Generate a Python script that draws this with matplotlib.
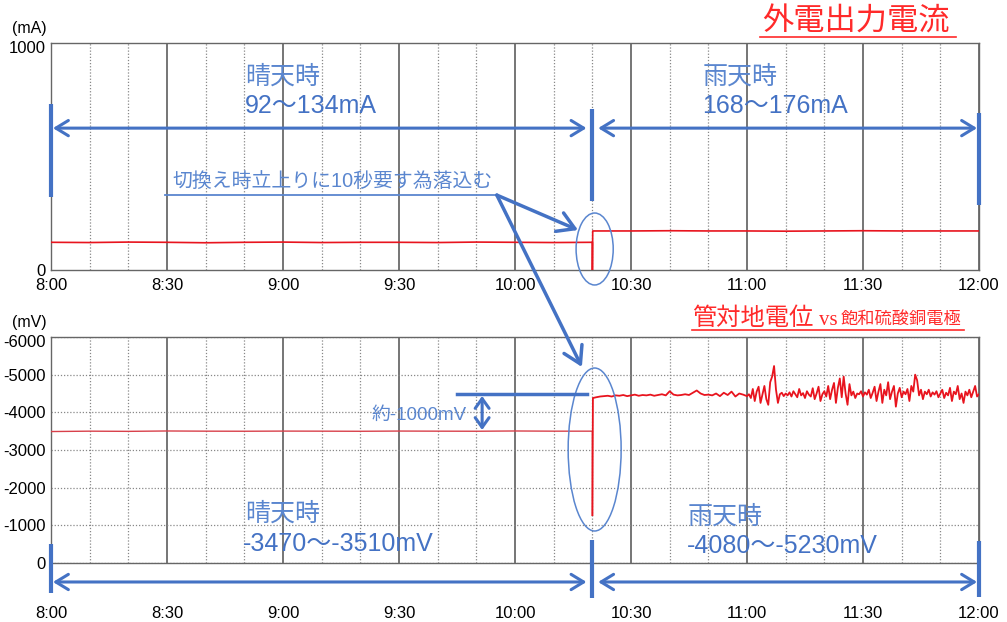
import numpy as np
import matplotlib
matplotlib.use("Agg")
import matplotlib.pyplot as plt
import matplotlib.transforms as mtransforms
from matplotlib.patches import Ellipse, ConnectionPatch
from matplotlib.lines import Line2D

plt.rcParams['font.family'] = ['Liberation Sans', 'Noto Sans CJK JP']
plt.rcParams['axes.unicode_minus'] = False

# time axis in minutes after 8:00, switch to rainy mode at 10:20
switch_min = 140
x_ticks = [0, 30, 60, 90, 120, 150, 180, 210, 240]
x_labels = ['8:00', '8:30', '9:00', '9:30', '10:00', '10:30', '11:00', '11:30', '12:00']
x_minor = list(range(0, 241, 10))

# output current (mA)
cur_t_before = np.arange(0, 141, 10)
cur_before = [122, 121, 123, 122, 120, 122, 123, 121, 122, 122, 121, 123, 122, 121, 122]
cur_dip = 0
cur_t_after = np.arange(150, 241, 10)
cur_after = [172, 173, 172, 172, 171, 172, 173, 172, 172, 172]

# pipe-to-soil potential (mV)
pot_t_before = np.arange(0, 141, 10)
pot_before = [-3490, -3500, -3495, -3505, -3500, -3498, -3502, -3500,
              -3497, -3503, -3500, -3498, -3505, -3500, -3500]
pot_dip = -1270
pot_restart = -4380
pot_t_quiet = np.arange(141, 181)
pot_quiet = [-4400, -4420, -4430, -4440, -4420, -4450, -4440, -4460, -4430, -4450,
             -4470, -4440, -4460, -4450, -4470, -4440, -4460, -4480, -4450, -4560,
             -4470, -4450, -4460, -4480, -4460, -4520, -4580, -4500, -4460, -4470,
             -4450, -4500, -4430, -4520, -4460, -4550, -4420, -4500, -4470, -4430]
pot_t_noisy = np.arange(180.5, 240.01, 0.5)
pot_noisy = [-4480, -4380, -4620, -4300, -4550, -4680, -4250, -4480, -4700, -4350,
             -4200, -4800, -4950, -5230, -4600, -4250, -4480, -4520, -4430, -4500,
             -4450, -4530, -4420, -4560, -4480, -4400, -4620, -4450, -4510, -4380,
             -4560, -4470, -4420, -4640, -4350, -4500, -4680, -4300, -4480, -4560,
             -4420, -4700, -4350, -4600, -4780, -4250, -4650, -4900, -4400, -4950,
             -4500, -4200, -4750, -4450, -4550, -4380, -4500, -4480, -4560, -4420,
             -4530, -4470, -4600, -4380, -4520, -4680, -4300, -4550, -4750, -4250,
             -4600, -4450, -4800, -4350, -4550, -4700, -4150, -4500, -4650, -4400,
             -4550, -4480, -4620, -4300, -4700, -4550, -5000, -4850, -4450, -4600,
             -4350, -4550, -4480, -4600, -4420, -4530, -4470, -4560, -4400, -4500,
             -4600, -4380, -4520, -4450, -4650, -4300, -4550, -4480, -4700, -4350,
             -4500, -4250, -4550, -4450, -4600, -4400, -4550, -4700, -4420, -4480]

mv_ticks = [0, -1000, -2000, -3000, -4000, -5000, -6000]

blue = '#4472C4'
light_blue = '#5A86CF'
red = '#E8141E'
title_red = '#FF2A2A'
W, H = 1007, 622


def fx(x):
    return x / W


def fy(y):
    return 1 - y / H


fig = plt.figure(figsize=(10.07, 6.22), dpi=100)
fig.patch.set_facecolor('white')
ax1 = fig.add_axes([fx(51), fy(270), 928 / W, 227 / H])
ax2 = fig.add_axes([fx(51), fy(563), 928 / W, 226 / H])

# traces
cur_t = np.concatenate([cur_t_before, [switch_min + 0.02, switch_min + 0.1], cur_t_after])
cur_v = np.concatenate([cur_before, [cur_dip, cur_after[0]], cur_after])
ax1.plot(cur_t, cur_v, color=red, lw=1.2, zorder=3)

ax2.plot(np.append(pot_t_before, switch_min + 0.02), pot_before + [pot_dip],
         color='#D8404A', lw=1.0, zorder=3)
pot_t = np.concatenate([[switch_min + 0.02, switch_min + 0.15], pot_t_quiet, pot_t_noisy])
pot_v = np.concatenate([[pot_dip, pot_restart], pot_quiet, pot_noisy])
ax2.plot(pot_t, pot_v, color=red, lw=1.3, zorder=3)

down = mtransforms.ScaledTranslation(0, -3 / 72, fig.dpi_scale_trans)
for ax in (ax1, ax2):
    ax.set_xlim(0, 240)
    ax.set_xticks(x_ticks)
    ax.set_xticklabels(x_labels)
    ax.set_xticks(x_minor, minor=True)
    ax.grid(which='major', axis='x', color='#505050', lw=1.1, zorder=1)
    ax.grid(which='minor', axis='x', color='#888888', lw=0.9, ls=(0, (1, 1.5)), zorder=1)
    ax.tick_params(which='both', length=0, labelsize=12)
    ax.tick_params(axis='y', pad=4)
    for s in ax.spines.values():
        s.set_color('#666666')
        s.set_linewidth(1.0)
    ax.set_axisbelow(True)

ax1.set_ylim(0, 1000)
ax1.set_yticks([0, 1000])
ax1.tick_params(axis='x', pad=6)

ax2.set_ylim(0, -6000)
ax2.set_yticks(mv_ticks)
ax2.grid(which='major', axis='y', color='#888888', lw=0.9, ls=(0, (1, 1.5)), zorder=1)
ax2.tick_params(axis='x', pad=31)

# top y labels sit slightly low in the reference
for ax in (ax1, ax2):
    lab = ax.get_yticklabels()[-1]
    lab.set_transform(lab.get_transform() + down)

fig.text(fx(12), fy(29), '(mA)', fontsize=11.5, va='center', ha='left')
fig.text(fx(12), fy(323), '(mV)', fontsize=11.5, va='center', ha='left')

# titles
fig.text(fx(762), fy(22), '外電出力電流', fontsize=22.5, color=title_red, va='center',
         family=['Noto Sans CJK JP'])
fig.add_artist(Line2D([fx(760), fx(956)], [fy(37), fy(37)], color=title_red, lw=1.2))
fig.text(fx(692), fy(325), '管対地電位', fontsize=17.5, color=title_red, va='baseline',
         family=['Noto Sans CJK JP'])
fig.text(fx(819), fy(325), 'vs', fontsize=15, color=title_red, va='baseline',
         family=['Liberation Serif'])
fig.text(fx(841), fy(325), '飽和硫酸銅電極', fontsize=12.4, color=title_red, va='baseline',
         family=['Noto Sans CJK JP'])
fig.add_artist(Line2D([fx(692), fx(964)], [fy(330), fy(330)], color=title_red, lw=1.2))


def span_arrows(ax, y, bars):
    head = dict(arrowstyle='<->,head_length=0.9,head_width=0.55', lw=2.2, color=blue,
                mutation_scale=10, shrinkA=0, shrinkB=0)
    ax.annotate('', xy=(0.5, y), xytext=(switch_min - 1.5, y), arrowprops=head,
                annotation_clip=False, zorder=5)
    ax.annotate('', xy=(switch_min + 1.5, y), xytext=(239.5, y), arrowprops=head,
                annotation_clip=False, zorder=5)
    for x, y0, y1 in bars:
        ax.plot([x, x], [y0, y1], color=blue, lw=3, clip_on=False, zorder=5,
                solid_capstyle='butt')


span_arrows(ax1, 625, [(0, 322, 731), (switch_min, 304, 709), (240, 286, 692)])
span_arrows(ax2, 504, [(0, -504, 796), (switch_min, -611, 929), (240, -584, 903)])

# range labels
txt = dict(va='center', ha='left', zorder=6)
ax1.text(50.2, 850, '晴天時', fontsize=18, color=light_blue, **txt)
ax1.text(50.2, 722, '92～134mA', fontsize=18, color=blue, **txt)
ax1.text(168.4, 850, '雨天時', fontsize=18, color=light_blue, **txt)
ax1.text(168.4, 722, '168～176mA', fontsize=18, color=blue, **txt)
ax2.text(50.2, -1301, '晴天時', fontsize=18, color=light_blue, **txt)
ax2.text(49.7, -504, '-3470～-3510mV', fontsize=18, color=blue, **txt)
ax2.text(164.7, -1221, '雨天時', fontsize=18, color=light_blue, **txt)
ax2.text(164.5, -451, '-4080～-5230mV', fontsize=18, color=blue, **txt)

# switching note with leader lines
ax1.text(31.3, 388, '切換え時立上りに10秒要す為落込む', fontsize=14.3, color=light_blue,
         va='center', ha='left', zorder=6)
ax1.plot([29.5, 115.3], [330, 330], color=light_blue, lw=1.3, zorder=5)
ax1.annotate('', xy=(136.3, 176), xytext=(115.3, 330),
             arrowprops=dict(arrowstyle='->,head_length=1.0,head_width=0.6', lw=2.5,
                             color=blue, mutation_scale=12, shrinkA=0, shrinkB=0),
             zorder=5)
fig.add_artist(ConnectionPatch(xyA=(115.3, 330), coordsA=ax1.transData,
                               xyB=(137.3, -5204), coordsB=ax2.transData,
                               arrowstyle='->,head_length=1.0,head_width=0.6',
                               mutation_scale=12, lw=2.5, color=blue,
                               shrinkA=0, shrinkB=0, zorder=5))

ax1.add_patch(Ellipse((140.6, 92.5), 9.6, 317, fill=False, ec=light_blue, lw=1.1,
                      clip_on=False, zorder=5))
ax2.add_patch(Ellipse((140.6, -3013), 13.7, 4327, fill=False, ec=light_blue, lw=1.1,
                      clip_on=False, zorder=5))

# about -1000 mV step
ax2.plot([105.0, 138.6], [-4487, -4487], color=blue, lw=2.5, zorder=5)
ax2.annotate('', xy=(111.5, -4434), xytext=(111.5, -3531),
             arrowprops=dict(arrowstyle='<->,head_length=0.7,head_width=0.5', lw=2.2,
                             color=blue, mutation_scale=10, shrinkA=0, shrinkB=0),
             zorder=5)
ax2.text(83.0, -3929, '約-1000mV', fontsize=13.5, color=light_blue, va='center', ha='left',
         zorder=6)

fig.savefig('out.png', dpi=100)
